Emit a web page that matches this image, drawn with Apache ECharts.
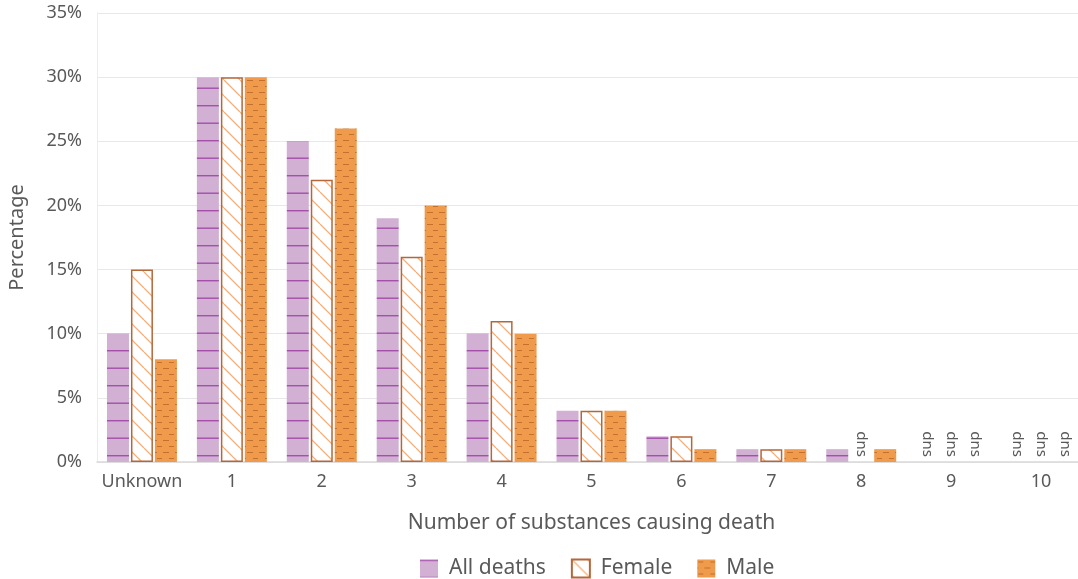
<!DOCTYPE html>
<html>
<head>
<meta charset="utf-8">
<script src="https://cdn.jsdelivr.net/npm/echarts@6/dist/echarts.min.js"></script>
<style>
html,body{margin:0;padding:0;background:#fff;}
#chart{width:1078px;height:579px;}
</style>
</head>
<body>
<div id="chart"></div>
<script>
const categories = ['Unknown','1','2','3','4','5','6','7','8','9','10'];
const allDeaths = [10,30,25,19,10,4,2,1,1,null,null];
const female = [15,30,22,16,11,4,2,1,null,null,null];
const male = [8,30,26,20,10,4,1,1,1,null,null];
const yTicks = {min:0, max:35, interval:5};

function makeCanvas(w,h,draw){const c=document.createElement('canvas');c.width=w;c.height=h;draw(c.getContext('2d'));return c;}
const allPat = makeCanvas(20,35,ctx=>{
  ctx.fillStyle='#d1b0d4';ctx.fillRect(0,0,20,35);
  ctx.fillStyle='#a44fa8';ctx.fillRect(0,0,20,1.4);ctx.fillRect(0,17.5,20,1.4);
});
const femPat = makeCanvas(16,16,ctx=>{
  ctx.fillStyle='#ffffff';ctx.fillRect(0,0,16,16);
  ctx.strokeStyle='#f5b07a';ctx.lineWidth=1.3;
  ctx.beginPath();
  for(let k=-16;k<=32;k+=16){ctx.moveTo(k,0);ctx.lineTo(k+16,16);}
  ctx.stroke();
});
const malePat = makeCanvas(12,12,ctx=>{
  ctx.fillStyle='#f09a4c';ctx.fillRect(0,0,12,12);
  ctx.fillStyle='#c4702f';
  ctx.fillRect(1,2,5,1);ctx.fillRect(7,8,5,1);ctx.fillRect(0,8,1,1);
});

const FONT = 'Noto Sans';
const dnsLabel = {show:true, formatter:'dns', position:'insideBottom', distance:5, rotate:-90, align:'right', verticalAlign:'middle', color:'#595959', fontSize:15, fontFamily:FONT};
function toData(arr){
  return arr.map(v => v===null ? {value:0, itemStyle:{borderWidth:0, color:'rgba(0,0,0,0)'}, label:dnsLabel} : v);
}

const chart = echarts.init(document.getElementById('chart'), null, {renderer:'canvas'});
const textColor = '#595959';
chart.setOption({
  animation:false,
  textStyle:{fontFamily:FONT},
  grid:{left:97, top:13, width:989, height:449, outerBoundsMode:'none'},
  legend:{
    bottom:0, left:420, itemWidth:18, itemHeight:18, itemGap:25, padding:0,
    textStyle:{color:textColor, fontSize:21, fontFamily:FONT, padding:[0,0,0,6]},
    data:['All deaths','Female','Male'], icon:'rect'
  },
  xAxis:{
    type:'category', data:categories,
    name:'Number of substances causing death', nameLocation:'middle', nameGap:51,
    nameTextStyle:{color:textColor, fontSize:21, fontFamily:FONT},
    axisLine:{lineStyle:{color:'#d9d9d9', width:1.5}},
    axisTick:{show:false},
    axisLabel:{color:textColor, fontSize:18, margin:11, interval:0, fontFamily:FONT}
  },
  yAxis:{
    type:'value', min:yTicks.min, max:yTicks.max, interval:yTicks.interval,
    name:'Percentage', nameLocation:'middle', nameGap:70,
    nameTextStyle:{color:textColor, fontSize:20, fontFamily:FONT},
    axisLine:{show:true, lineStyle:{color:'#ececec'}},
    splitLine:{lineStyle:{color:'#e8e8e8', width:1}},
    axisLabel:{color:textColor, fontSize:18, formatter:'{value}%', margin:15, fontFamily:FONT}
  },
  series:[
    {name:'All deaths', type:'bar', data:toData(allDeaths), barWidth:22, barGap:'9%', barCategoryGap:'20%',
     itemStyle:{color:{image:allPat, repeat:'repeat'}}},
    {name:'Female', type:'bar', data:toData(female), barWidth:22, barGap:'9%',
     itemStyle:{color:{image:femPat, repeat:'repeat'}, borderColor:'#b5673a', borderWidth:1.5}},
    {name:'Male', type:'bar', data:toData(male), barWidth:22, barGap:'9%',
     itemStyle:{color:{image:malePat, repeat:'repeat'}}}
  ]
});
</script>
</body>
</html>
